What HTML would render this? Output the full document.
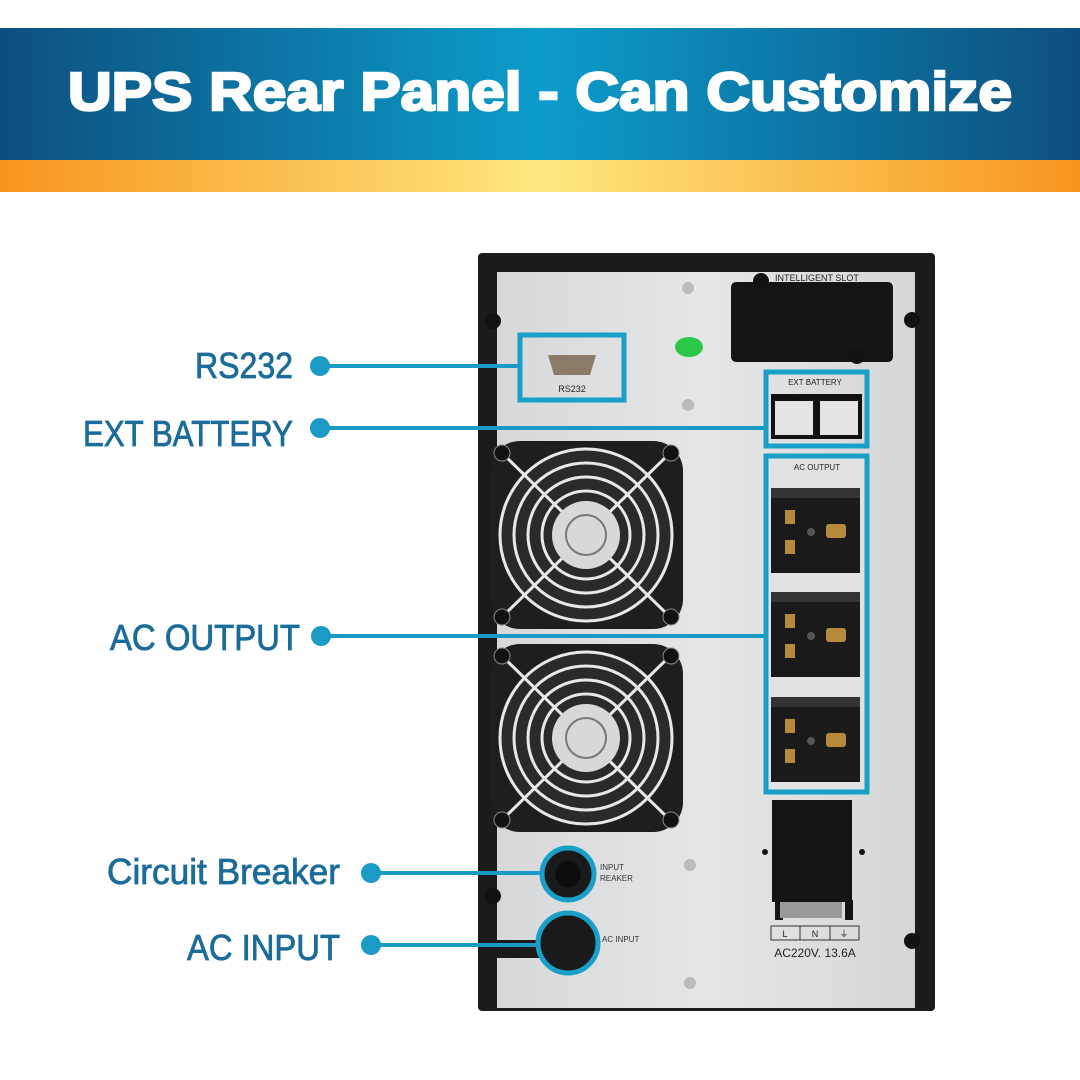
<!DOCTYPE html>
<html><head><meta charset="utf-8"><style>
html,body{margin:0;padding:0;background:#fff}
svg{display:block}
</style></head><body>
<svg width="1080" height="1080" viewBox="0 0 1080 1080" xmlns="http://www.w3.org/2000/svg" font-family="Liberation Sans, sans-serif">
<defs>
<linearGradient id="ban" x1="0" x2="1" y1="0" y2="0">
<stop offset="0" stop-color="#0d4f7e"/><stop offset="0.5" stop-color="#0c9ccb"/><stop offset="1" stop-color="#0d4f7e"/>
</linearGradient>
<linearGradient id="org" x1="0" x2="1">
<stop offset="0" stop-color="#f7941d"/><stop offset="0.5" stop-color="#fde97e"/><stop offset="1" stop-color="#f7941d"/>
</linearGradient>
<linearGradient id="pan" x1="0" x2="1">
<stop offset="0" stop-color="#d6d8da"/><stop offset="0.5" stop-color="#e4e6e8"/><stop offset="1" stop-color="#d4d6d8"/>
</linearGradient>
<g id="fan">
<rect x="0" y="0" width="193" height="188" rx="30" fill="#1e1e1e"/>
<circle cx="96" cy="94" r="88" fill="#2a2a2a"/>
<g fill="none" stroke="#e8e8e8" stroke-width="3">
<circle cx="96" cy="94" r="86"/><circle cx="96" cy="94" r="72"/><circle cx="96" cy="94" r="58"/><circle cx="96" cy="94" r="44"/>
<line x1="14" y1="14" x2="178" y2="174"/><line x1="178" y1="14" x2="14" y2="174"/>
</g>
<circle cx="96" cy="94" r="34" fill="#d8d8d8"/>
<circle cx="96" cy="94" r="20" fill="none" stroke="#777" stroke-width="2"/>
<circle cx="12" cy="12" r="8" fill="#111" stroke="#888"/><circle cx="181" cy="12" r="8" fill="#111" stroke="#888"/>
<circle cx="12" cy="176" r="8" fill="#111" stroke="#888"/><circle cx="181" cy="176" r="8" fill="#111" stroke="#888"/>
</g>
<g id="out">
<rect x="0" y="0" width="89" height="85" fill="#1a1a1a"/>
<rect x="0" y="0" width="89" height="10" fill="#333"/>
<rect x="14" y="22" width="10" height="14" fill="#b58a3a"/>
<rect x="14" y="52" width="10" height="14" fill="#b58a3a"/>
<circle cx="40" cy="44" r="4" fill="#555"/>
<rect x="55" y="36" width="20" height="14" rx="3" fill="#b58a3a"/>
</g>
</defs>
<rect width="1080" height="1080" fill="#fff"/>
<rect x="0" y="28" width="1080" height="134" fill="url(#ban)"/>
<rect x="0" y="160" width="1080" height="32" fill="url(#org)"/>
<text x="540" y="110" text-anchor="middle" font-size="54" font-weight="bold" fill="#fff" stroke="#fff" stroke-width="2.5" textLength="944" lengthAdjust="spacingAndGlyphs">UPS Rear Panel - Can Customize</text>

<!-- UPS -->
<rect x="478" y="253" width="457" height="758" rx="4" fill="#1b1b1b"/>
<rect x="497" y="272" width="418" height="736" fill="url(#pan)"/>
<rect x="478" y="845" width="19" height="160" fill="#1b1b1b"/>
<use href="#fan" x="490" y="441"/>
<use href="#fan" x="490" y="644"/>
<rect x="731" y="282" width="162" height="80" rx="5" fill="#141414"/>
<text x="775" y="281" font-size="9" fill="#222">INTELLIGENT SLOT</text>
<circle cx="761" cy="281" r="8" fill="#111"/><circle cx="857" cy="356" r="8" fill="#111"/>
<circle cx="493" cy="321" r="8" fill="#111"/><circle cx="912" cy="320" r="8" fill="#111"/>
<circle cx="493" cy="896" r="8" fill="#111"/><circle cx="912" cy="941" r="8" fill="#111"/>
<circle cx="688" cy="288" r="6" fill="#bbb"/><circle cx="688" cy="405" r="6" fill="#bbb"/>
<circle cx="690" cy="865" r="6" fill="#bbb"/><circle cx="690" cy="983" r="6" fill="#bbb"/>
<ellipse cx="689" cy="347" rx="14" ry="10" fill="#2dc84a"/>
<!-- RS232 -->
<rect x="520" y="335" width="104" height="65" fill="none" stroke="#1aa0c8" stroke-width="5"/>
<path d="M548 355 h48 l-6 20 h-36z" fill="#8a7a66"/>
<text x="572" y="392" text-anchor="middle" font-size="9" fill="#222">RS232</text>
<!-- ext battery -->
<rect x="766" y="372" width="101" height="74" fill="none" stroke="#1aa0c8" stroke-width="5"/>
<text x="815" y="385" text-anchor="middle" font-size="8" fill="#222">EXT BATTERY</text>
<rect x="771" y="394" width="91" height="45" fill="#111"/>
<rect x="775" y="401" width="38" height="34" fill="#e4e4e4"/><rect x="820" y="401" width="38" height="34" fill="#e4e4e4"/>
<!-- AC output -->
<rect x="766" y="456" width="101" height="336" fill="#e0e2e4" stroke="#1aa0c8" stroke-width="5"/>
<text x="817" y="470" text-anchor="middle" font-size="8" fill="#222">AC OUTPUT</text>
<use href="#out" x="771" y="488"/><use href="#out" x="771" y="592"/><use href="#out" x="771" y="697"/>
<!-- input block -->
<rect x="772" y="800" width="80" height="102" fill="#141414"/>
<rect x="775" y="900" width="8" height="20" fill="#141414"/><rect x="845" y="900" width="8" height="20" fill="#141414"/>
<rect x="780" y="902" width="62" height="16" fill="#9a9a9a"/>
<rect x="771" y="926" width="88" height="14" fill="none" stroke="#333"/>
<line x1="800" y1="926" x2="800" y2="940" stroke="#333"/><line x1="830" y1="926" x2="830" y2="940" stroke="#333"/>
<text x="785" y="937" text-anchor="middle" font-size="9" fill="#222">L</text>
<text x="815" y="937" text-anchor="middle" font-size="9" fill="#222">N</text>
<text x="844" y="937" text-anchor="middle" font-size="9" fill="#222">⏚</text>
<text x="815" y="957" text-anchor="middle" font-size="12" fill="#222">AC220V.  13.6A</text>
<circle cx="765" cy="852" r="3" fill="#111"/><circle cx="862" cy="852" r="3" fill="#111"/>
<!-- breaker & input -->
<circle cx="568" cy="874" r="26" fill="#1a1a1a" stroke="#1aa0c8" stroke-width="5"/>
<circle cx="568" cy="874" r="13" fill="#0d0d0d"/>
<text x="600" y="870" font-size="8" fill="#333">INPUT</text><text x="600" y="881" font-size="8" fill="#333">REAKER</text>
<rect x="478" y="940" width="70" height="18" fill="#1a1a1a"/>
<circle cx="568" cy="943" r="30" fill="#1a1a1a" stroke="#1aa0c8" stroke-width="5"/>
<text x="602" y="942" font-size="8" fill="#333">AC INPUT</text>

<!-- callouts -->
<g stroke="#1a9ac4" stroke-width="4">
<line x1="320" y1="366" x2="520" y2="366"/>
<line x1="320" y1="428" x2="766" y2="428"/>
<line x1="321" y1="636" x2="766" y2="636"/>
<line x1="371" y1="873" x2="542" y2="873"/>
<line x1="371" y1="945" x2="538" y2="945"/>
</g>
<g fill="#1a9ac4">
<circle cx="320" cy="366" r="10"/><circle cx="320" cy="428" r="10"/><circle cx="321" cy="636" r="10"/>
<circle cx="371" cy="873" r="10"/><circle cx="371" cy="945" r="10"/>
</g>
<g fill="#1b6c9a" stroke="#1b6c9a" stroke-width="0.8" font-size="36">
<text x="293" y="378" text-anchor="end" textLength="98" lengthAdjust="spacingAndGlyphs">RS232</text>
<text x="293" y="446" text-anchor="end" textLength="210" lengthAdjust="spacingAndGlyphs">EXT BATTERY</text>
<text x="300" y="650" text-anchor="end" textLength="190" lengthAdjust="spacingAndGlyphs">AC OUTPUT</text>
<text x="340" y="884" text-anchor="end" textLength="233" lengthAdjust="spacingAndGlyphs">Circuit Breaker</text>
<text x="340" y="960" text-anchor="end" textLength="153" lengthAdjust="spacingAndGlyphs">AC INPUT</text>
</g>
</svg>
</body></html>
